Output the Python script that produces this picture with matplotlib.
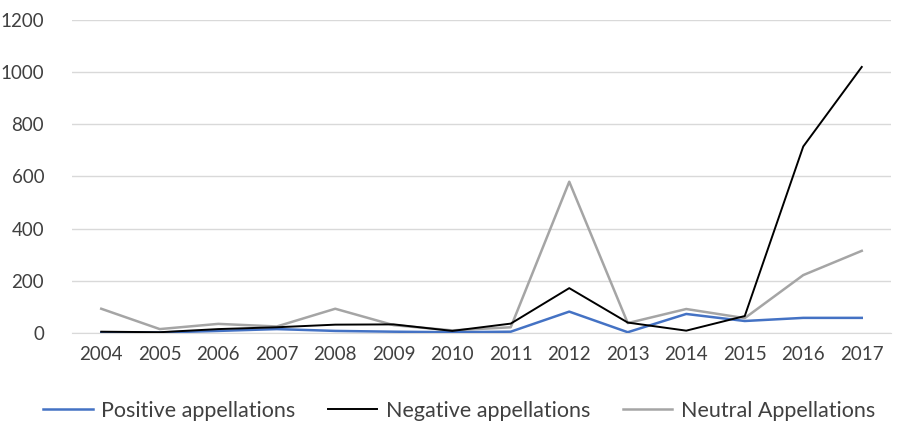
import matplotlib
matplotlib.use("Agg")
import matplotlib.pyplot as plt

years = ["2004", "2005", "2006", "2007", "2008", "2009", "2010",
         "2011", "2012", "2013", "2014", "2015", "2016", "2017"]
positive = [2, 2, 8, 15, 8, 5, 3, 5, 82, 3, 73, 46, 58, 58]
negative = [5, 3, 15, 22, 32, 33, 8, 36, 172, 40, 9, 65, 715, 1020]
neutral = [93, 15, 35, 25, 93, 30, 10, 22, 580, 38, 92, 57, 222, 315]
yticks = [0, 200, 400, 600, 800, 1000, 1200]

plt.rcParams['font.family'] = ['Lato', 'DejaVu Sans']

fig = plt.figure(figsize=(9.07, 4.25), dpi=100)
ax = fig.add_axes([72/907, (425-333)/425, (891-72)/907, (333-20)/425])

x = list(range(len(years)))
ax.plot(x, positive, color="#4472C4", lw=1.8, label="Positive appellations", zorder=3)
ax.plot(x, negative, color="#000000", lw=1.4, label="Negative appellations", zorder=3)
ax.plot(x, neutral, color="#A5A5A5", lw=1.8, label="Neutral Appellations", zorder=2)

ax.set_xlim(-0.5, len(years) - 0.5)
ax.set_ylim(0, 1200)
ax.set_yticks(yticks)
ax.set_yticklabels([str(v) for v in yticks])
ax.set_xticks(x)
ax.set_xticklabels(years)
ax.grid(axis="y", color="#D9D9D9", lw=1)
ax.set_axisbelow(True)
for s in ["top", "right", "left"]:
    ax.spines[s].set_visible(False)
ax.spines["bottom"].set_color("#D9D9D9")
ax.tick_params(axis="both", length=0, labelsize=13.5, colors="#404040")
ax.tick_params(axis="y", pad=20)
ax.tick_params(axis="x", pad=9)

fig.legend(loc="center", bbox_to_anchor=(459/907, 1 - 411/425), ncol=3,
           frameon=False, fontsize=15.5, handlelength=2.3, handletextpad=0.4,
           columnspacing=1.5, labelcolor="#404040")

fig.savefig("out.png", dpi=100)
